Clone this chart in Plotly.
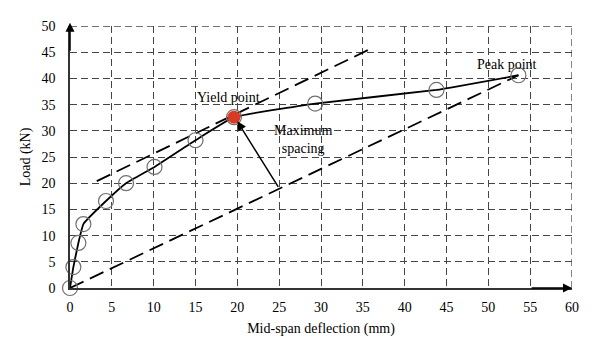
import plotly.graph_objects as go

# Data
deflection = [0, 0.4, 1.0, 1.6, 4.3, 6.7, 10.1, 15.0, 19.6, 29.3, 43.8, 53.6]
load = [0, 4.0, 8.6, 12.2, 16.6, 20.0, 23.1, 28.2, 32.6, 35.2, 37.8, 40.6]

yield_x = [19.6]
yield_y = [32.6]

tangent_x = [3.2, 36.0]
tangent_y = [20.4, 45.7]

secant_x = [0, 53.6]
secant_y = [0, 40.6]

x_ticks = [0, 5, 10, 15, 20, 25, 30, 35, 40, 45, 50, 55, 60]
y_ticks = [0, 5, 10, 15, 20, 25, 30, 35, 40, 45, 50]

FONT = "Liberation Serif"
GRID = "#454545"
GDASH = "7px,4px"

fig = go.Figure()

fig.add_trace(go.Scatter(x=tangent_x, y=tangent_y, mode="lines",
                         line=dict(color="black", width=1.8, dash="15px,7px"),
                         showlegend=False, hoverinfo="skip"))
fig.add_trace(go.Scatter(x=secant_x, y=secant_y, mode="lines",
                         line=dict(color="black", width=1.8, dash="15px,7px"),
                         showlegend=False, hoverinfo="skip"))
fig.add_trace(go.Scatter(x=deflection, y=load, mode="lines",
                         line=dict(color="black", width=1.8, shape="spline", smoothing=0.3),
                         showlegend=False))
fig.add_trace(go.Scatter(x=deflection, y=load, mode="markers",
                         marker=dict(symbol="circle-open", size=15, color="#707070",
                                     line=dict(width=1.2)),
                         cliponaxis=False, showlegend=False))
fig.add_trace(go.Scatter(x=yield_x, y=yield_y, mode="markers",
                         marker=dict(symbol="circle", size=13, color="#d93a26"),
                         cliponaxis=False, showlegend=False))

annotations = [
    dict(x=0, y=50.6, ax=0, ay=45, xref="x", yref="y", axref="x", ayref="y",
         showarrow=True, arrowhead=2, arrowsize=1.2, arrowwidth=1.5, arrowcolor="black", text=""),
    dict(x=60, y=0, ax=55, ay=0, xref="x", yref="y", axref="x", ayref="y",
         showarrow=True, arrowhead=2, arrowsize=1.2, arrowwidth=1.5, arrowcolor="black", text=""),
    dict(x=20.0, y=31.8, ax=25.0, ay=19.0, xref="x", yref="y", axref="x", ayref="y",
         showarrow=True, arrowhead=2, arrowsize=1.2, arrowwidth=1.5, arrowcolor="black", text=""),
    dict(x=18.9, y=36.4, xref="x", yref="y", text="Yield point", showarrow=False,
         font=dict(family=FONT, size=14, color="black")),
    dict(x=27.8, y=28.3, xref="x", yref="y", text="Maximum<br>spacing", showarrow=False,
         font=dict(family=FONT, size=14, color="black")),
    dict(x=52.2, y=42.7, xref="x", yref="y", text="Peak point", showarrow=False,
         font=dict(family=FONT, size=14, color="black")),
]

shapes = [
    dict(type="line", xref="x", yref="y", x0=0, x1=60, y0=50, y1=50,
         line=dict(color=GRID, width=1.3, dash=GDASH), layer="below"),
    dict(type="line", xref="x", yref="y", x0=60, x1=60, y0=0, y1=50,
         line=dict(color=GRID, width=1.3, dash=GDASH), layer="below"),
]

fig.update_layout(
    width=600, height=355,
    margin=dict(l=70, r=28, t=26, b=67),
    paper_bgcolor="white", plot_bgcolor="white",
    font=dict(family=FONT, size=14, color="black"),
    annotations=annotations,
    shapes=shapes,
    xaxis=dict(range=[0, 60], tickvals=x_ticks, ticks="", showline=True, linecolor="#333333",
               linewidth=1.5, showgrid=True, gridcolor=GRID, griddash=GDASH, gridwidth=1.3,
               zeroline=False, automargin=False, ticklabelstandoff=5,
               tickfont=dict(family=FONT, size=14),
               title=dict(text="Mid-span deflection (mm)", standoff=10,
                          font=dict(family=FONT, size=14))),
    yaxis=dict(range=[0, 50], tickvals=y_ticks, ticks="", showline=True, linecolor="#333333",
               linewidth=1.5, showgrid=True, gridcolor=GRID, griddash=GDASH, gridwidth=1.3,
               zeroline=False, automargin=False, ticklabelstandoff=10,
               tickfont=dict(family=FONT, size=14),
               title=dict(text="Load (kN)", standoff=8,
                          font=dict(family=FONT, size=14))),
)

fig.write_html("out.html", config={"displayModeBar": False},
               post_script="document.body.style.margin='0';")
